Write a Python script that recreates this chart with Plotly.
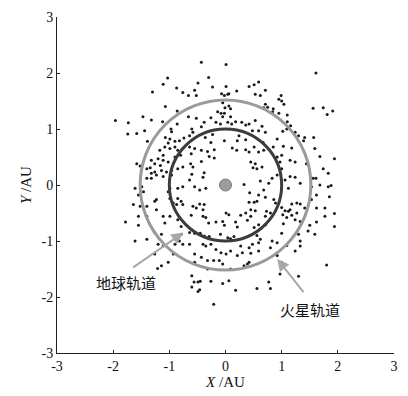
import plotly.graph_objects as go

# Asteroid positions (AU)
ast_x = [
 -1.03,-1.11,-0.87,-1.30,-0.76,-1.07,-0.86,-1.47,-1.32,-1.96,-1.73,-1.12,-0.86,-1.44,-1.58,-1.74,-0.97,-0.96,-1.07,-0.99,-0.90,-0.82,-0.74,-1.39,-1.02,
 -0.43,0.01,-0.30,-0.49,-0.23,0.01,0.20,0.42,0.51,0.59,0.53,0.62,0.71,-0.66,-0.55,-0.52,-0.07,-0.02,0.04,0.06,-0.05,-0.01,0.06,0.09,-0.14,-0.08,-0.02,0.71,0.68,
 -0.66,-0.52,-0.26,-0.05,0.09,-0.38,-0.17,0.04,0.11,0.18,0.29,0.36,0.42,0.53,-0.43,-0.09,0.48,0.59,0.65,0.71,-0.60,-0.58,-0.64,-0.36,-0.23,0.24,-0.26,-0.02,0.21,0.36,0.67,
 0.99,0.95,1.00,1.04,0.75,0.85,0.84,0.95,1.10,1.56,1.74,1.91,1.81,1.10,1.16,1.02,1.09,1.24,1.30,1.41,1.57,0.92,1.39,1.61,
 -1.17,-1.08,-0.99,-0.90,-0.85,-0.76,-1.11,-0.90,-0.80,-1.20,-1.32,-1.11,-1.02,-1.26,-1.16,-1.58,-1.52,-1.40,-1.34,-1.26,-1.14,-1.05,-0.96,-0.85,-0.76,-1.32,-1.23,-1.40,-1.32,-1.11,-0.96,
 -1.61,-1.49,-1.46,-1.55,-0.99,-1.02,-0.85,-0.76,-1.23,-1.26,-1.64,-1.52,-1.40,-0.99,-0.93,-0.87,-0.85,-0.79,-0.76,-1.23,-1.55,-1.40,-1.11,-1.78,-1.55,-0.99,-0.85,-1.08,-0.79,
 -0.64,-0.55,-0.43,-0.32,-0.20,-0.29,-0.20,-0.61,0.12,0.20,0.36,0.42,0.51,0.59,0.68,0.45,0.53,0.49,0.56,0.65,-0.43,-0.62,-0.58,-0.38,-0.60,-0.40,-0.64,-0.55,-0.46,-0.35,
 0.33,0.62,0.43,0.68,0.59,0.71,0.42,0.51,0.56,-0.58,-0.46,-0.38,-0.52,-0.40,0.45,0.53,0.73,-0.61,-0.40,-0.35,0.01,0.06,0.27,0.36,0.45,0.71,-0.30,-0.17,-0.05,0.18,0.39,0.59,0.71,-0.02,0.21,0.51,
 0.85,1.03,1.18,1.59,1.68,1.94,0.92,1.00,1.15,1.24,0.97,1.00,1.44,0.92,0.83,0.77,1.06,1.12,1.15,1.24,1.33,1.56,1.61,1.74,1.83,1.68,1.83,1.88,1.53,1.62,1.85,
 0.86,0.89,1.18,1.27,1.33,1.53,1.00,1.06,1.12,1.15,1.02,1.09,1.18,1.27,1.41,1.62,1.77,1.94,1.77,0.80,1.33,1.03,1.24,1.62,1.50,1.94,
 -1.61,-1.40,-1.26,-1.14,-1.20,-1.11,-0.90,-0.82,-0.76,-1.26,-0.93,-1.02,-1.14,-1.21,-0.79,
 -0.64,-0.55,-0.45,-0.38,-0.29,-0.09,0.04,0.09,0.15,0.56,-0.64,-0.40,-0.35,-0.26,-0.17,-0.08,0.01,0.09,0.27,0.42,0.48,0.59,0.62,0.30,0.45,0.59,
 -0.55,-0.43,-0.32,-0.21,-0.11,-0.05,0.21,0.42,-0.55,-0.32,0.09,0.33,0.39,-0.60,-0.56,-0.49,-0.45,-0.26,-0.05,0.06,0.56,0.18,-0.49,-0.46,-0.60,-0.21,
 1.00,1.30,1.47,1.59,1.33,1.33,0.83,0.92,0.80,1.09,1.24,0.92,1.00,1.30,1.80,0.77,0.80,0.97,
]
ast_y = [
 1.91,1.80,1.73,1.66,1.65,1.40,1.32,1.22,1.16,1.15,1.11,1.13,1.09,0.97,0.92,0.91,1.00,0.95,0.85,0.82,0.78,0.79,0.84,0.78,0.75,
 2.19,2.15,1.92,1.82,1.75,1.76,1.68,1.76,1.79,1.84,1.62,1.60,1.69,1.60,1.69,1.60,1.63,1.60,1.62,1.63,1.47,1.38,1.41,1.36,1.31,1.28,1.28,1.44,1.38,
 1.22,1.19,1.20,1.22,1.22,1.12,1.12,1.12,1.09,1.13,1.12,1.07,1.09,1.15,1.04,1.09,0.97,0.97,1.05,0.94,1.00,0.94,0.88,0.85,0.90,0.88,0.76,0.79,0.79,0.81,0.76,
 1.60,1.53,1.50,1.44,1.39,1.36,1.31,1.28,1.25,1.37,1.38,1.32,1.26,1.13,1.06,0.96,1.00,0.94,0.88,0.85,0.85,0.82,0.79,2.00,
 0.62,0.68,0.65,0.68,0.62,0.65,0.53,0.50,0.53,0.47,0.44,0.44,0.41,0.38,0.35,0.38,0.34,0.29,0.31,0.23,0.26,0.23,0.26,0.29,0.32,0.21,0.18,0.12,0.12,0.15,0.18,
 -0.06,-0.03,-0.12,-0.18,-0.06,-0.12,-0.06,-0.03,-0.26,-0.29,-0.35,-0.38,-0.38,-0.24,-0.32,-0.35,-0.24,-0.29,-0.35,-0.44,-0.56,-0.56,-0.56,-0.66,-0.72,-0.56,-0.62,-0.68,-0.74,
 0.68,0.65,0.62,0.60,0.63,0.51,0.48,0.56,0.66,0.62,0.63,0.59,0.68,0.59,0.62,0.41,0.38,0.31,0.29,0.32,0.42,0.38,0.32,0.22,0.19,0.14,0.09,-0.03,-0.09,-0.06,
 0.01,0.07,-0.14,-0.09,-0.18,-0.22,-0.31,-0.31,-0.29,-0.38,-0.34,-0.35,-0.41,-0.44,-0.44,-0.46,-0.47,-0.54,-0.56,-0.58,-0.50,-0.53,-0.54,-0.50,-0.56,-0.56,-0.68,-0.66,-0.65,-0.66,-0.63,-0.71,-0.71,-0.72,-0.75,-0.76,
 0.68,0.69,0.66,0.65,0.51,0.47,0.50,0.53,0.44,0.41,0.41,0.29,0.38,0.18,0.12,0.03,0.09,-0.06,0.15,0.14,0.03,0.12,0.12,0.29,0.21,0.00,-0.03,-0.01,-0.03,-0.18,-0.21,
 -0.26,-0.32,-0.34,-0.32,-0.34,-0.26,-0.40,-0.46,-0.47,-0.44,-0.53,-0.58,-0.54,-0.50,-0.41,-0.41,-0.41,-0.51,-0.56,-0.50,-0.65,-0.69,-0.62,-0.66,-0.72,-0.74,
 -1.00,-0.97,-0.85,-0.88,-1.06,-1.09,-1.06,-1.00,-1.06,-1.23,-1.23,-1.38,-1.44,-1.49,-0.88,
 -0.85,-0.86,-0.86,-0.91,-0.92,-0.88,-0.94,-0.96,-0.92,-0.90,-1.06,-1.06,-1.09,-1.06,-1.15,-1.21,-1.23,-1.18,-1.09,-1.12,-1.06,-1.03,-0.97,-1.21,-1.22,-1.18,
 -1.23,-1.29,-1.35,-1.35,-1.35,-1.41,-1.26,-1.38,-1.38,-1.50,-1.50,-1.44,-1.41,-1.62,-1.73,-1.73,-1.72,-1.72,-1.76,-1.71,-1.85,-1.88,-1.90,-1.87,-1.82,-2.13,
 -0.86,-0.88,-0.82,-0.88,-1.00,-1.09,-1.00,-1.03,-1.12,-1.08,-1.18,-1.26,-1.38,-1.63,-1.43,-1.73,-1.85,-1.59,
]

# Orbit radii (AU) and styles
orbit_names = ["地球轨道", "火星轨道"]
orbit_radii = [1.0, 1.52]
orbit_colors = ["#3c3c3c", "#9a9a9a"]

# Label positions and arrow tips (AU)
label_x = [-1.77, 1.50]
label_y = [-1.74, -2.23]
arrow_tail_x = [-1.67, 1.41]
arrow_tail_y = [-1.49, -1.94]
arrow_tip_x = [-0.75, 0.92]
arrow_tip_y = [-0.85, -1.32]

tick_vals = [-3, -2, -1, 0, 1, 2, 3]

fig = go.Figure()

fig.add_trace(go.Scatter(
    x=ast_x, y=ast_y, mode="markers",
    marker=dict(size=3, color="#1a1a1a"),
    showlegend=False, hoverinfo="skip"))

fig.add_trace(go.Scatter(
    x=[0], y=[0], mode="markers",
    marker=dict(size=12, color="#9c9c9c", line=dict(color="#7a7a7a", width=1)),
    showlegend=False, hoverinfo="skip"))

for r, c in zip(orbit_radii, orbit_colors):
    fig.add_shape(type="circle", xref="x", yref="y",
                  x0=-r, y0=-r, x1=r, y1=r,
                  line=dict(color=c, width=3), layer="above")

for i, name in enumerate(orbit_names):
    fig.add_annotation(x=arrow_tip_x[i], y=arrow_tip_y[i],
                       ax=arrow_tail_x[i], ay=arrow_tail_y[i],
                       axref="x", ayref="y", xref="x", yref="y",
                       text="", showarrow=True, arrowhead=2, arrowsize=1.2,
                       arrowwidth=2, arrowcolor="#a8a8a8")
    fig.add_annotation(x=label_x[i], y=label_y[i], xref="x", yref="y",
                       text=name, showarrow=False,
                       font=dict(family="Noto Sans CJK SC", size=15, color="#111"))

axis_common = dict(
    range=[-3, 3], tickvals=tick_vals, ticktext=[str(v) for v in tick_vals],
    showgrid=False, zeroline=False, showline=True, linecolor="#222", linewidth=1,
    ticks="inside", ticklen=3, tickcolor="#222", mirror=False,
    tickfont=dict(family="Liberation Serif", size=14, color="#111"),
)

fig.update_layout(
    width=408, height=396,
    margin=dict(l=57, r=10, t=15, b=41),
    paper_bgcolor="white", plot_bgcolor="white",
    xaxis=dict(**axis_common,
               title=dict(text="<i>X</i> /AU", standoff=2,
                          font=dict(family="Liberation Serif", size=15, color="#111"))),
    yaxis=dict(**axis_common,
               title=dict(text="<i>Y</i> /AU", standoff=6,
                          font=dict(family="Liberation Serif", size=15, color="#111"))),
)

fig.write_html("out.html")
